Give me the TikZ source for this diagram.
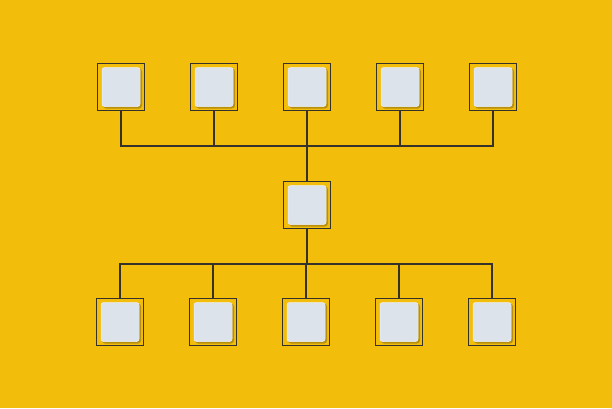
\documentclass[tikz,border=0pt]{standalone}
\begin{document}
\begin{tikzpicture}[x=1pt,y=-1pt,
  frame/.style={draw=framegray,line width=1.5pt,minimum width=47pt,minimum height=47pt,inner sep=0pt,outer sep=0pt},
  tile/.style={fill=tilefill,draw=tileedge,line width=0.5pt,rounded corners=2.5pt,minimum width=38pt,minimum height=39pt,inner sep=0pt},
  shade/.style={fill=shadowc,rounded corners=3pt,minimum width=39pt,minimum height=40pt,inner sep=0pt},
  link/.style={draw=framegray,line width=1.1pt}]
\definecolor{bg}{HTML}{F2BE0B}
\definecolor{framegray}{HTML}{35322C}
\definecolor{tilefill}{HTML}{DCE3EA}
\definecolor{tileedge}{HTML}{EEF2F5}
\definecolor{shadowc}{HTML}{B8900E}
\fill[bg] (0,0) rectangle (612,408);
\useasboundingbox (0,0) rectangle (612,408);
% boxes
\foreach \n/\x/\y in {t1/121/87, t2/214/87, t3/307/87, t4/400/87, t5/493/87,
                       m/307/205,
                       b1/120/322, b2/213/322, b3/306/322, b4/399/322, b5/492/322}{
  \node[shade] at (\x+1.5,\y+1.5) {};
  \node[tile] (\n-in) at (\x,\y) {};
  \node[frame] (\n) at (\x,\y) {};
}
% connectors
\coordinate (jt) at (307,146);
\coordinate (jb) at (307,264);
\foreach \n in {t1,t2,t3,t4,t5}{ \draw[link] (\n.south) |- (jt); }
\draw[link] (jt) -- (m.north);
\draw[link] (m.south) -- (jb);
\foreach \n in {b1,b2,b3,b4,b5}{ \draw[link] (jb) -| (\n.north); }
\end{tikzpicture}
\end{document}
